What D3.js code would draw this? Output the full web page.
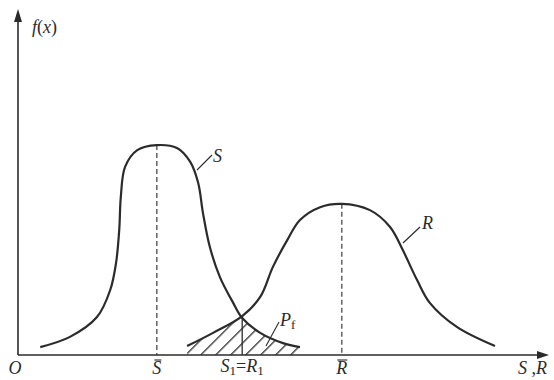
<!DOCTYPE html>
<html>
<head>
<meta charset="utf-8">
<script src="https://cdn.jsdelivr.net/npm/d3@7"></script>
<style>
  body { margin: 0; background: #fff; }
  text { font-family: "Liberation Serif", "DejaVu Serif", serif; fill: #2b2b2b; }
</style>
</head>
<body>
<div class="root"></div>
<script>
// curve S (load): x, f(x)
const sX = [0.42, 0.98, 1.49, 1.74, 1.85, 1.91, 1.94, 2.02, 2.25, 2.62, 3.0, 3.25, 3.4, 3.49, 3.62, 3.81, 4.06, 4.23, 4.57, 5.0, 5.32];
const sY = [0.024, 0.055, 0.115, 0.197, 0.279, 0.379, 0.479, 0.57, 0.621, 0.636, 0.627, 0.585, 0.521, 0.43, 0.327, 0.236, 0.158, 0.112, 0.067, 0.036, 0.024];
// curve R (resistance)
const rX = [3.19, 3.68, 4.23, 4.57, 4.81, 5.08, 5.32, 5.7, 6.11, 6.64, 7.02, 7.26, 7.53, 7.77, 8.28, 9.0];
const rY = [0.027, 0.067, 0.118, 0.176, 0.267, 0.348, 0.409, 0.448, 0.458, 0.439, 0.388, 0.318, 0.227, 0.158, 0.085, 0.027];
const sMean = 2.62, sPeak = 0.636;
const rMean = 6.11, rPeak = 0.458;
const cross = [4.23, 0.115];

const width = 554;
const height = 380;
const ink = "#2b2b2b";

const svg = d3.select("div.root").append("svg")
  .attr("width", width)
  .attr("height", height);

const x = d3.scaleLinear().domain([0, 10]).range([18, 548]);
const y = d3.scaleLinear().domain([0, 1]).range([355, 25]);

const sData = sX.map((d, i) => [d, sY[i]]);
const rData = rX.map((d, i) => [d, rY[i]]);

const curve = d3.curveCatmullRom.alpha(0.5);
const line = d3.line().x(d => x(d[0])).y(d => y(d[1])).curve(curve);
const area = d3.area().x(d => x(d[0])).y0(y(0)).y1(d => y(d[1])).curve(curve);

// hatching of the overlap (Pf)
const defs = svg.append("defs");
defs.append("pattern")
  .attr("id", "hatch")
  .attr("patternUnits", "userSpaceOnUse")
  .attr("width", 10.6)
  .attr("height", 10.6)
  .attr("patternTransform", "rotate(45)")
  .append("line")
  .attr("x1", 0.7).attr("y1", 0).attr("x2", 0.7).attr("y2", 10.6)
  .attr("stroke", ink).attr("stroke-width", 1.3);
defs.append("clipPath").attr("id", "clipS").append("path").attr("d", area(sData));
defs.append("clipPath").attr("id", "clipR").append("path").attr("d", area(rData));

svg.append("g").attr("clip-path", "url(#clipS)")
  .append("g").attr("clip-path", "url(#clipR)")
  .append("rect")
  .attr("x", x(rX[0])).attr("y", y(0.3))
  .attr("width", x(sX[sX.length - 1]) - x(rX[0])).attr("height", y(0) - y(0.3))
  .attr("fill", "url(#hatch)");

// dashed mean lines
[[sMean, sPeak], [rMean, rPeak]].forEach(m => {
  svg.append("line")
    .attr("x1", x(m[0])).attr("x2", x(m[0]))
    .attr("y1", y(m[1])).attr("y2", y(0))
    .attr("stroke", ink).attr("stroke-width", 1.1)
    .attr("stroke-dasharray", "5,3");
});

// S1 = R1 line
svg.append("line")
  .attr("x1", x(cross[0])).attr("x2", x(cross[0]))
  .attr("y1", y(cross[1])).attr("y2", y(0))
  .attr("stroke", ink).attr("stroke-width", 1.3);

// curves
[sData, rData].forEach(d => {
  svg.append("path").attr("d", line(d))
    .attr("fill", "none").attr("stroke", ink).attr("stroke-width", 2.2);
});

// axes with arrows
svg.append("line").attr("x1", x(0)).attr("y1", y(0)).attr("x2", 540).attr("y2", y(0))
  .attr("stroke", ink).attr("stroke-width", 1.6);
svg.append("path").attr("d", `M549,${y(0)} L537,${y(0) - 4} L537,${y(0) + 4} Z`).attr("fill", ink);
svg.append("line").attr("x1", x(0)).attr("y1", y(0)).attr("x2", x(0)).attr("y2", 20)
  .attr("stroke", ink).attr("stroke-width", 1.6);
svg.append("path").attr("d", `M${x(0)},9 L${x(0) - 4},22 L${x(0) + 4},22 Z`).attr("fill", ink);

// leader lines
const leader = (a, b) => svg.append("line")
  .attr("x1", a[0]).attr("y1", a[1]).attr("x2", b[0]).attr("y2", b[1])
  .attr("stroke", ink).attr("stroke-width", 1.1);
leader([197, 170], [212, 155]);
leader([403, 243], [420, 227]);
leader([266, 346], [279, 322]);

// labels
function label(px, py, parts, anchor) {
  const t = svg.append("text").attr("x", px).attr("y", py)
    .attr("font-size", 18).attr("text-anchor", anchor || "start");
  parts.forEach(p => {
    const s = t.append("tspan").text(p[0]);
    if (p[1] === "i") s.attr("font-style", "italic");
    if (p[1] === "sub") s.attr("font-size", 13).attr("baseline-shift", "-25%");
  });
  return t;
}
label(32, 33, [["f", "i"], ["(", ""], ["x", "i"], [")", ""]]);
label(213, 162, [["S", "i"]]);
label(422, 229, [["R", "i"]]);
label(280, 326, [["P", "i"], ["f", "sub"]]);
label(15, 374, [["O", "i"]], "middle");
label(x(cross[0]), 372, [["S", "i"], ["1", "sub"], ["=", ""], ["R", "i"], ["1", "sub"]], "middle");
label(518, 374, [["S", "i"], [" ,", ""], ["R", "i"]]);

[[sMean, "S"], [rMean, "R"]].forEach(m => {
  const t = label(x(m[0]), 374, [[m[1], "i"]], "middle");
  const b = t.node().getBBox();
  svg.append("line")
    .attr("x1", b.x + 2).attr("x2", b.x + b.width)
    .attr("y1", b.y + 2).attr("y2", b.y + 2)
    .attr("stroke", ink).attr("stroke-width", 1.1);
});
</script>
</body>
</html>
